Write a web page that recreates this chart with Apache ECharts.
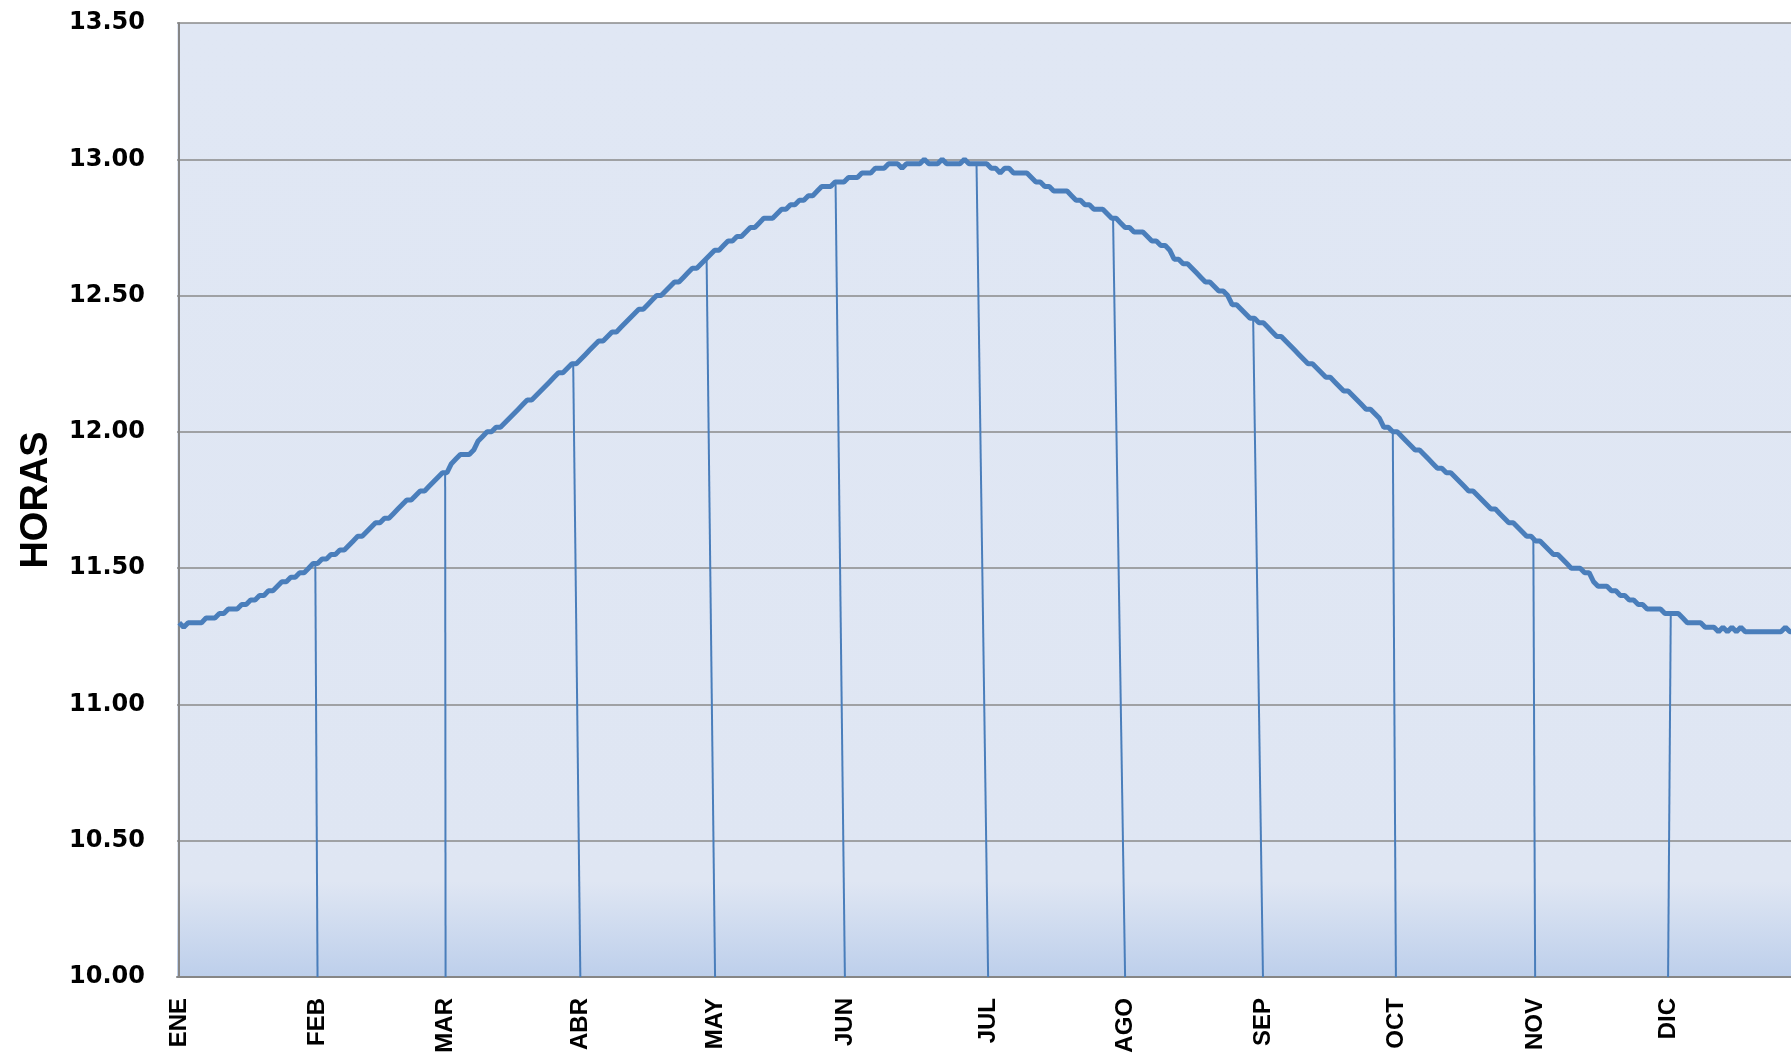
<!DOCTYPE html>
<html>
<head>
<meta charset="utf-8">
<script src="https://cdn.jsdelivr.net/npm/echarts@6/dist/echarts.min.js"></script>
<style>
html,body{margin:0;padding:0;background:#ffffff;}
#chart{width:1791px;height:1056px;}
</style>
</head>
<body>
<div id="chart"></div>
<script>
// Month labels (categories) and where they sit, in day-of-year units
const monthNames = ['ENE','FEB','MAR','ABR','MAY','JUN','JUL','AGO','SEP','OCT','NOV','DIC'];
const monthLabelDays = [0, 31, 59.7, 89.9, 120.1, 149.2, 181.3, 212, 242.9, 272.7, 303.9, 333.7];
// Day (x) where each month's drop line meets the curve
const dropTopDays = [null, 30.5, 59.6, 88.3, 118.2, 147.1, 178.7, 209.3, 240.7, 272.0, 303.5, 334.3];

// Daylight length, in minutes, one value per day
const minENE = [678,677,678,678,678,678,679,679,679,680,680,681,681,681,682,682,683,683,684,684,685,685,686,687,687,688,688,689,689,690,691];
const minFEB = [691,692,692,693,693,694,694,695,696,697,697,698,699,700,700,701,701,702,703,704,705,705,706,707,707,708,709,710];
const minMAR = [711,711,713,714,715,715,715,716,718,719,720,720,721,721,722,723,724,725,726,727,727,728,729,730,731,732,733,733,734,735,735];
const minABR = [736,737,738,739,740,740,741,742,742,743,744,745,746,747,747,748,749,750,750,751,752,753,753,754,755,756,756,757,758,759];
const minMAY = [760,760,761,762,762,763,763,764,765,765,766,767,767,767,768,769,769,770,770,771,771,772,772,773,774,774,774,775,775,775,776];
const minJUN = [776,776,777,777,777,778,778,778,779,779,779,778,779,779,779,779,780,779,779,779,780,779,779,779,779,780,779,779,779,779];
const minJUL = [779,778,778,777,778,778,777,777,777,777,776,775,775,774,774,773,773,773,773,772,771,771,770,770,769,769,769,768,767,767,766];
const minAGO = [765,765,764,764,764,763,762,762,761,761,760,758,758,757,757,756,755,754,753,753,752,751,751,750,748,748,747,746,745,745,744];
const minSEP = [744,743,742,741,741,740,739,738,737,736,735,735,734,733,732,732,731,730,729,729,728,727,726,725,725,724,723,721,721,720];
const minOCT = [720,719,718,717,716,716,715,714,713,712,712,711,711,710,709,708,707,707,706,705,704,703,703,702,701,700,700,699,698,697,697];
const minNOV = [696,696,695,694,693,693,692,691,690,690,690,689,689,687,686,686,686,685,685,684,684,683,683,682,682,681,681,681,681,680];
const minDIC = [680,680,680,679,678,678,678,678,677,677,677,676,677,676,677,676,677,676,676,676,676,676,676,676,676,676,677,676,676];

// Y axis tick labels
const yTickLabels = ['10.00','10.50','11.00','11.50','12.00','12.50','13.00','13.50'];

const allMinutes = [].concat(minENE,minFEB,minMAR,minABR,minMAY,minJUN,minJUL,minAGO,minSEP,minOCT,minNOV,minDIC);
const hours = allMinutes.map(m => m / 60);
const lineData = hours.map((h, i) => [i, h]);

function valueAt(d) {
  const i = Math.floor(d), f = d - i;
  const a = hours[i], b = hours[Math.min(i + 1, hours.length - 1)];
  return a + (b - a) * f;
}
const yMin = parseFloat(yTickLabels[0]);
const yMax = parseFloat(yTickLabels[yTickLabels.length - 1]);

const dropData = [];
for (let k = 1; k < monthNames.length; k++) {
  dropData.push({ coords: [[dropTopDays[k], valueAt(dropTopDays[k])], [monthLabelDays[k], yMin]] });
}

const chart = echarts.init(document.getElementById('chart'), null, { renderer: 'canvas' });
chart.setOption({
  animation: false,
  grid: {
    left: 177, top: 23, right: 0, bottom: 79,
    outerBoundsMode: 'none',
    containLabel: false,
    show: true,
    borderWidth: 0,
    backgroundColor: new echarts.graphic.LinearGradient(0, 0, 0, 1, [
      { offset: 0, color: '#E0E7F4' },
      { offset: 0.9, color: '#DFE6F3' },
      { offset: 1, color: '#BDCFEB' }
    ])
  },
  xAxis: {
    type: 'value',
    min: -0.5,
    max: 361.25,
    splitLine: { show: false },
    axisTick: { show: false },
    axisLine: { show: true, lineStyle: { color: '#868686', width: 2 } },
    axisLabel: {
      customValues: monthLabelDays,
      formatter: v => monthNames[monthLabelDays.indexOf(v)],
      rotate: 90,
      margin: 21,
      color: '#000000',
      fontFamily: 'Liberation Sans',
      fontWeight: 'bold',
      fontSize: 24
    }
  },
  yAxis: {
    type: 'value',
    min: yMin,
    max: yMax,
    interval: 0.5,
    name: 'HORAS',
    nameLocation: 'middle',
    nameRotate: 90,
    nameGap: 121,
    nameTextStyle: { color: '#000000', fontFamily: 'Liberation Sans', fontWeight: 'bold', fontSize: 38 },
    axisTick: { show: false },
    axisLine: { show: true, lineStyle: { color: '#868686', width: 2 } },
    splitLine: { show: true, lineStyle: { color: '#8A8A8A', width: 1.5 } },
    axisLabel: {
      formatter: v => yTickLabels[Math.round((v - yMin) / 0.5)],
      margin: 32,
      color: '#000000',
      fontFamily: 'DejaVu Sans',
      fontWeight: 'bold',
      fontSize: 24
    }
  },
  series: [
    {
      type: 'lines',
      coordinateSystem: 'cartesian2d',
      z: 2,
      silent: true,
      lineStyle: { color: '#4A7EBB', width: 2, opacity: 1 },
      data: dropData
    },
    {
      type: 'line',
      z: 3,
      data: lineData,
      showSymbol: false,
      clip: true,
      lineStyle: { color: '#4A7EBB', width: 5 }
    }
  ]
});
</script>
</body>
</html>
